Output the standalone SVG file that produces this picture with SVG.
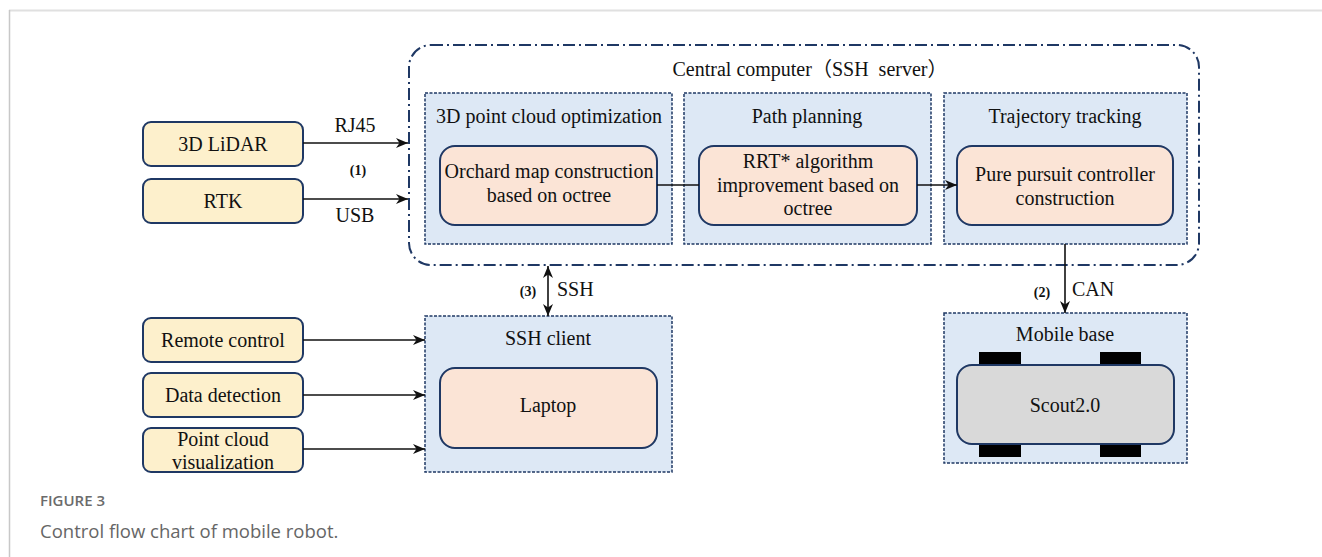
<svg xmlns="http://www.w3.org/2000/svg" width="1322" height="557" viewBox="0 0 1322 557">
  <style>
    .t { font-family: "Liberation Serif", "Noto Sans CJK SC", serif; font-size: 20px; fill: #111; text-anchor: middle; }
    .tl { font-family: "Liberation Serif", serif; font-size: 20px; fill: #111; }
    .n { font-family: "Liberation Serif", serif; font-size: 14px; font-weight: bold; fill: #111; text-anchor: middle; }
    .blue { fill: #dde8f5; stroke: #1f3864; stroke-width: 1.5; stroke-dasharray: 3 1.5; }
    .orange { fill: #fbe4d6; stroke: #1f3864; stroke-width: 2; }
    .yellow { fill: #fdf0cc; stroke: #1f3864; stroke-width: 2; }
    .gray { fill: #d9d9d9; stroke: #1f3864; stroke-width: 2; }
    .wheel { fill: #000; }
    .link { stroke: #111; stroke-width: 1.6; fill: none; }
    .cap1 { font-family: "Open Sans", "Noto Sans", sans-serif; font-size: 15px; font-weight: 600; fill: #6b6b6b; }
    .cap2 { font-family: "Open Sans", "Noto Sans", sans-serif; font-size: 18.5px; fill: #666; }
  </style>
  <defs>
    <marker id="arr" viewBox="0 0 12 10" refX="12" refY="5" markerWidth="12" markerHeight="10" markerUnits="userSpaceOnUse" orient="auto-start-reverse">
      <path d="M0,0 L12,5 L0,10 L3.5,5 z" fill="#111"/>
    </marker>
  </defs>

  <rect width="1322" height="557" fill="#fff"/>
  <!-- page frame -->
  <line x1="9" y1="10.5" x2="1322" y2="10.5" stroke="#e0e0e0" stroke-width="2"/>
  <line x1="9.5" y1="10" x2="9.5" y2="557" stroke="#c8c8c8" stroke-width="1.5"/>

  <!-- central computer boundary -->
  <g id="central-computer">
    <rect x="409" y="45" width="790" height="220" rx="22" fill="none" stroke="#1f3864" stroke-width="2" stroke-dasharray="12 4 2 4"/>
    <text class="t" x="810" y="76" xml:space="preserve">Central computer（SSH  server）</text>
  </g>

  <g id="point-cloud">
    <rect class="blue" x="425" y="93" width="247" height="151"/>
    <text class="t" x="549" y="123">3D point cloud optimization</text>
    <rect class="orange" x="440" y="146" width="217" height="79" rx="15"/>
    <text class="t" x="549" y="178">Orchard map construction</text>
    <text class="t" x="549" y="202">based on octree</text>
  </g>

  <g id="path-planning">
    <rect class="blue" x="684" y="93" width="247" height="151"/>
    <text class="t" x="807" y="123">Path planning</text>
    <rect class="orange" x="699" y="146" width="218" height="79" rx="15"/>
    <text class="t" x="808" y="168">RRT* algorithm</text>
    <text class="t" x="808" y="192">improvement based on</text>
    <text class="t" x="808" y="215">octree</text>
  </g>

  <g id="trajectory-tracking">
    <rect class="blue" x="944" y="93" width="243" height="151"/>
    <text class="t" x="1065" y="123">Trajectory tracking</text>
    <rect class="orange" x="957" y="146" width="216" height="79" rx="15"/>
    <text class="t" x="1065" y="181">Pure pursuit controller</text>
    <text class="t" x="1065" y="205">construction</text>
  </g>

  <g id="lidar">
    <rect class="yellow" x="143" y="122" width="160" height="44" rx="8"/>
    <text class="t" x="223" y="151">3D LiDAR</text>
  </g>
  <g id="rtk">
    <rect class="yellow" x="143" y="179" width="160" height="44" rx="8"/>
    <text class="t" x="223" y="208">RTK</text>
  </g>

  <g id="remote-control">
    <rect class="yellow" x="143" y="318" width="160" height="44" rx="8"/>
    <text class="t" x="223" y="347">Remote control</text>
  </g>
  <g id="data-detection">
    <rect class="yellow" x="143" y="373" width="160" height="44" rx="8"/>
    <text class="t" x="223" y="402">Data detection</text>
  </g>
  <g id="point-cloud-vis">
    <rect class="yellow" x="143" y="428" width="160" height="44" rx="8"/>
    <text class="t" x="223" y="446">Point cloud</text>
    <text class="t" x="223" y="469">visualization</text>
  </g>

  <g id="ssh-client">
    <rect class="blue" x="425" y="316" width="247" height="156"/>
    <text class="t" x="548" y="345">SSH client</text>
    <rect class="orange" x="440" y="368" width="217" height="80" rx="15"/>
    <text class="t" x="548" y="412">Laptop</text>
  </g>

  <g id="mobile-base">
    <rect class="blue" x="944" y="313" width="243" height="150"/>
    <text class="t" x="1065" y="341">Mobile base</text>
    <rect class="wheel" x="979" y="352" width="42" height="14"/>
    <rect class="wheel" x="1100" y="352" width="41" height="14"/>
    <rect class="wheel" x="979" y="443" width="42" height="14"/>
    <rect class="wheel" x="1100" y="443" width="41" height="14"/>
    <rect class="gray" x="957" y="365" width="217" height="79" rx="15"/>
    <text class="t" x="1065" y="412">Scout2.0</text>
  </g>

  <g id="connectors">
    <line class="link" x1="303" y1="143" x2="408" y2="143" marker-end="url(#arr)"/>
    <line class="link" x1="303" y1="199" x2="408" y2="199" marker-end="url(#arr)"/>
    <line class="link" x1="657" y1="185" x2="699" y2="185"/>
    <line class="link" x1="917" y1="185" x2="957" y2="185" marker-end="url(#arr)"/>
    <line class="link" x1="548" y1="266" x2="548" y2="316" marker-start="url(#arr)" marker-end="url(#arr)"/>
    <line class="link" x1="1065" y1="244" x2="1065" y2="313" marker-end="url(#arr)"/>
    <line class="link" x1="303" y1="340" x2="425" y2="340" marker-end="url(#arr)"/>
    <line class="link" x1="303" y1="395" x2="425" y2="395" marker-end="url(#arr)"/>
    <line class="link" x1="303" y1="449" x2="425" y2="449" marker-end="url(#arr)"/>
    <text class="t" x="355" y="132">RJ45</text>
    <text class="n" x="358" y="175">(1)</text>
    <text class="t" x="355" y="222">USB</text>
    <text class="n" x="528" y="296">(3)</text>
    <text class="tl" x="557" y="296">SSH</text>
    <text class="n" x="1042" y="297">(2)</text>
    <text class="tl" x="1072" y="296">CAN</text>
  </g>

  <g id="caption">
    <text class="cap1" x="40" y="506">FIGURE 3</text>
    <text class="cap2" x="40" y="538">Control flow chart of mobile robot.</text>
  </g>
</svg>
